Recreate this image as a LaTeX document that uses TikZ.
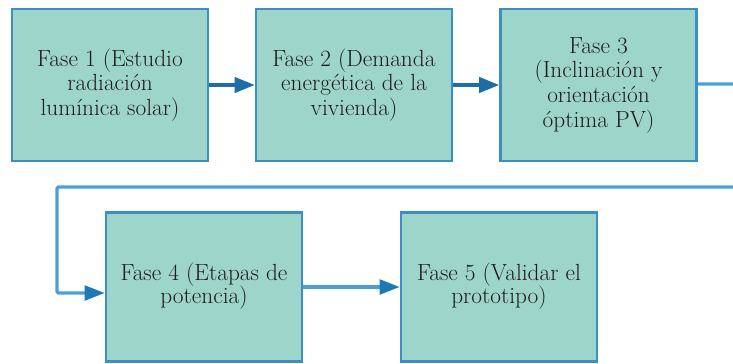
\documentclass[tikz,border=0pt]{standalone}
\usetikzlibrary{arrows.meta}
\definecolor{boxfill}{HTML}{9DD5CB}
\definecolor{boxline}{HTML}{3A8FC5}
\definecolor{darkarrow}{HTML}{1F6DA6}
\definecolor{lightline}{HTML}{4C9FD5}
\definecolor{headcol}{HTML}{1E78B8}
\definecolor{textcol}{HTML}{1C1C1C}
\tikzset{
  phase/.style={draw=boxline, fill=boxfill, line width=2pt, minimum width=147pt, minimum height=114pt,
    inner sep=0pt, align=center, text=textcol, font=\fontsize{17.5}{18.5}\selectfont},
  phasesmall/.style={phase, minimum height=112pt},
  darkconn/.style={draw=darkarrow, line width=2.3pt, -{Triangle[length=15pt,width=11.5pt]}},
  lightconn/.style={draw=lightline, line width=2.3pt, -{Triangle[length=15pt,width=11pt,fill=headcol,color=headcol]}},
}
\begin{document}
\begin{tikzpicture}[x=0.75pt,y=-0.75pt]
\useasboundingbox (0,0) rectangle (733,364);
\node[phase] (b1) at (110,85) {Fase 1 (Estudio\\radiación\\lumínica solar)};
\node[phase] (b2) at (354,85) {Fase 2 (Demanda\\energética de la\\vivienda)};
\node[phase] (b3) at (598.5,85) {Fase 3\\(Inclinación y\\orientación\\óptima PV)};
\node[phasesmall] (b4) at (204,287) {\raisebox{3pt}{\begin{tabular}{@{}c@{}}Fase 4 (Etapas de\\[-1.5pt] potencia)\end{tabular}}};
\node[phasesmall] (b5) at (499,287) {\raisebox{2pt}{\begin{tabular}{@{}c@{}}Fase 5 (Validar el\\[-1.5pt] prototipo)\end{tabular}}};
\coordinate (r1) at (750,84);
\coordinate (r2) at (750,187);
\coordinate (l1) at (57,187);
\draw[darkconn] (b1) -- (b2);
\draw[darkconn] (b2) -- (b3);
\draw[lightconn, rounded corners=1pt] (b3.east |- r1) -- (r1) -- (r2) -- (l1) |- ([yshift=-4.5pt]b4.west);
\draw[lightconn] (b4) -- (b5);
\end{tikzpicture}
\end{document}
